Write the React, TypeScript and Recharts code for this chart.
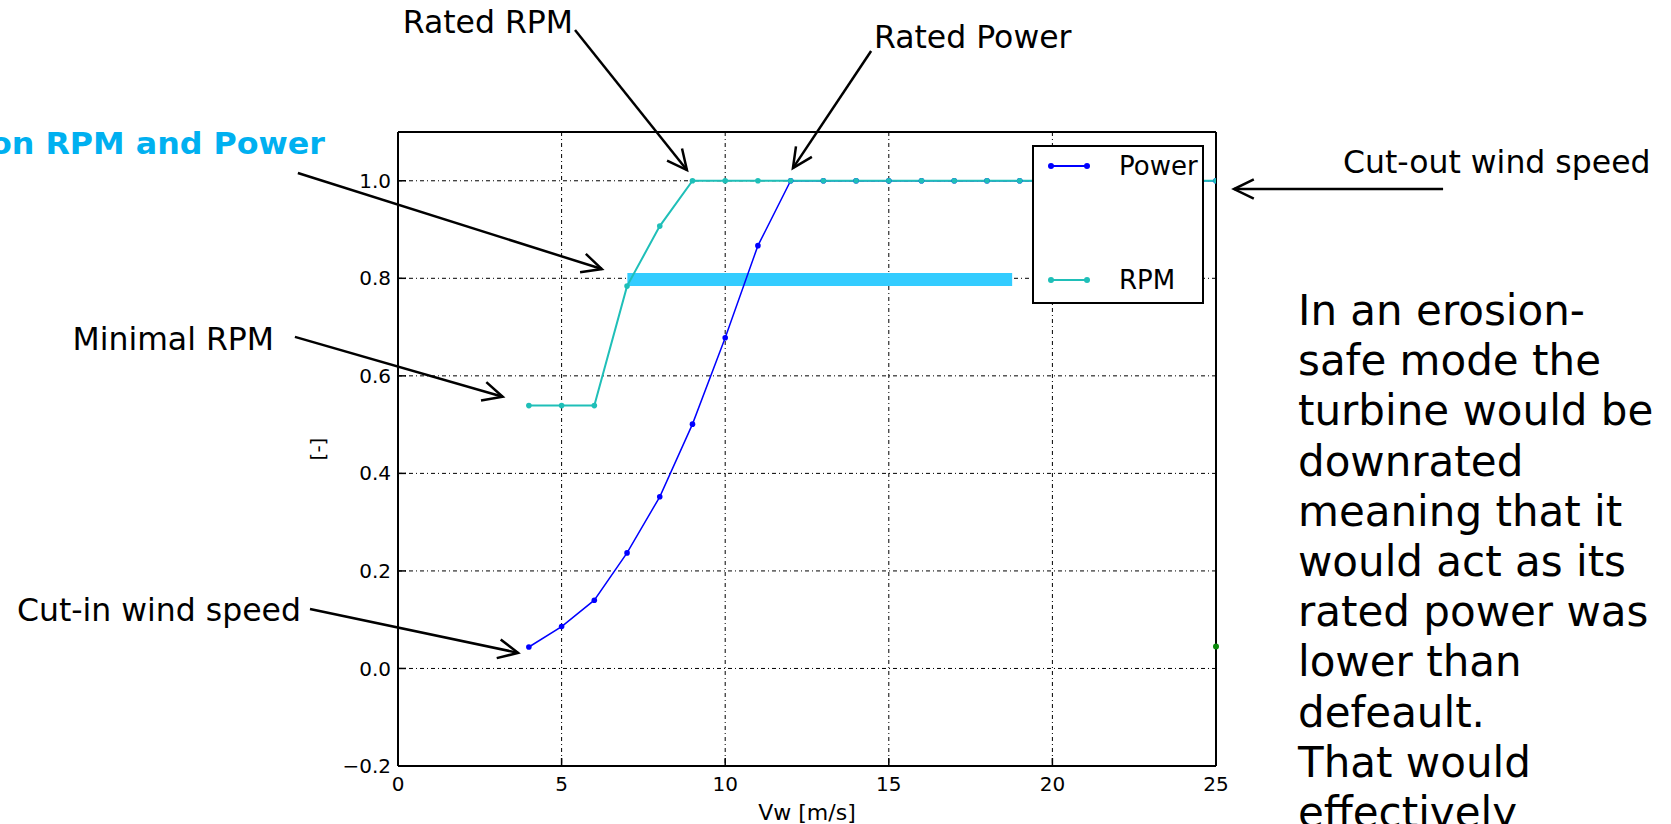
import {
  LineChart,
  Line,
  XAxis,
  YAxis,
  CartesianGrid,
  Legend,
  ReferenceLine,
  ReferenceDot,
} from "recharts";

const W = 1671;
const H = 824;

const WIND_SPEED = [4, 5, 6, 7, 8, 9, 10, 11, 12, 13, 14, 15, 16, 17, 18, 19, 20, 21, 22, 23, 24, 25];
const POWER = [0.044, 0.086, 0.14, 0.237, 0.352, 0.501, 0.678, 0.867, 1, 1, 1, 1, 1, 1, 1, 1, 1, 1, 1, 1, 1, 1];
const RPM = [0.539, 0.539, 0.539, 0.784, 0.907, 1, 1, 1, 1, 1, 1, 1, 1, 1, 1, 1, 1, 1, 1, 1, 1, 1];

const X_TICKS = [0, 5, 10, 15, 20, 25];
const Y_TICKS = [-0.2, 0, 0.2, 0.4, 0.6, 0.8, 1.0];

// downrated power level (thick cyan bar)
const DOWNRATE_FROM = 7.01;
const DOWNRATE_TO = 18.77;
const DOWNRATE_LEVEL = 0.7976;

// stray point at the right edge
const CUTOUT_DOT = { x: 25, y: 0.045 };

// arrows in data coordinates: [vw, value] start -> tip
const ARROWS = [
  { name: "rated-rpm", from: [5.41, 1.309], to: [8.83, 1.022] },
  { name: "rated-power", from: [14.46, 1.266], to: [12.07, 1.026] },
  { name: "downrate", from: [-3.06, 1.016], to: [6.23, 0.819] },
  { name: "min-rpm", from: [-3.15, 0.68], to: [3.2, 0.557] },
  { name: "cut-in", from: [-2.69, 0.122], to: [3.67, 0.032] },
  { name: "cut-out", from: [31.94, 0.983], to: [25.55, 0.983] },
];

const NOTES = [
  { text: "Rated RPM", x: 573, y: 33, anchor: "end" },
  { text: "Rated Power", x: 874, y: 48, anchor: "start" },
  { text: "Minimal RPM", x: 274, y: 350, anchor: "end" },
  { text: "Cut-in wind speed", x: 301, y: 621, anchor: "end" },
  { text: "Cut-out wind speed", x: 1343, y: 173, anchor: "start" },
];

const SIDE_TEXT = [
  "In an erosion-",
  "safe mode the",
  "turbine would be",
  "downrated",
  "meaning that it",
  "would act as its",
  "rated power was",
  "lower than",
  "defeault.",
  "That would",
  "effectively",
];

const POWER_COLOR = "#0000ff";
const RPM_COLOR = "#1fbfb8";
const BAR_COLOR = "#33ccff";
const FONT = "'DejaVu Sans', Verdana, sans-serif";

const data = WIND_SPEED.map((vw, i) => ({ vw, power: POWER[i], rpm: RPM[i] }));

function fmtY(v: number) {
  return v.toFixed(1).replace("-", "\u2212");
}

function Arrow(props: any) {
  const { x1, y1, x2, y2 } = props;
  const a = Math.atan2(y2 - y1, x2 - x1);
  const len = 22;
  const spread = 0.45;
  const ax = x2 - len * Math.cos(a - spread);
  const ay = y2 - len * Math.sin(a - spread);
  const bx = x2 - len * Math.cos(a + spread);
  const by = y2 - len * Math.sin(a + spread);
  return (
    <g>
      <line x1={x1} y1={y1} x2={x2} y2={y2} stroke="#000" strokeWidth={2.5} />
      <polyline
        points={`${ax},${ay} ${x2},${y2} ${bx},${by}`}
        fill="none"
        stroke="#000"
        strokeWidth={2.5}
      />
    </g>
  );
}

function LegendBox(props: any) {
  const payload = props.payload || [];
  return (
    <div
      style={{
        width: 172,
        height: 159,
        boxSizing: "border-box",
        border: "2px solid #000",
        background: "#fff",
        position: "relative",
        fontFamily: FONT,
        fontSize: 26,
        color: "#000",
      }}
    >
      {payload.map((p: any, i: number) => (
        <div
          key={p.value}
          style={{
            position: "absolute",
            left: 14,
            top: i === 0 ? 4 : 118,
            height: 30,
            display: "flex",
            alignItems: "center",
          }}
        >
          <svg width={42} height={10}>
            <line x1={2} y1={5} x2={40} y2={5} stroke={p.color} strokeWidth={2} />
            <circle cx={3} cy={5} r={3} fill={p.color} />
            <circle cx={39} cy={5} r={3} fill={p.color} />
          </svg>
          <span style={{ marginLeft: 29, lineHeight: "30px" }}>{p.value}</span>
        </div>
      ))}
    </div>
  );
}

export default function App() {
  return (
    <div
      style={{
        position: "absolute",
        left: 0,
        top: 0,
        width: W,
        height: H,
        overflow: "hidden",
        background: "#fff",
      }}
    >
      <LineChart
        width={W}
        height={H}
        data={data}
        margin={{ top: 130, right: 453, left: 318, bottom: 0 }}
      >
        <CartesianGrid stroke="#000" strokeDasharray="4 3 1 3" strokeWidth={1} />
        <XAxis
          dataKey="vw"
          type="number"
          domain={[0, 25]}
          ticks={X_TICKS}
          allowDataOverflow
          height={58}
          axisLine={{ stroke: "#000", strokeWidth: 2 }}
          tickLine={{ stroke: "#000", strokeWidth: 1.5 }}
          tickSize={-8}
          tickMargin={19}
          tick={{ fill: "#000", fontSize: 20, fontFamily: FONT }}
          label={{
            value: "Vw [m/s]",
            position: "insideBottom",
            offset: 4,
            fill: "#000",
            fontSize: 22,
            fontFamily: FONT,
          }}
        />
        <XAxis
          xAxisId="top"
          orientation="top"
          type="number"
          domain={[0, 25]}
          ticks={X_TICKS}
          allowDataOverflow
          height={2}
          axisLine={{ stroke: "#000", strokeWidth: 2 }}
          tickLine={{ stroke: "#000", strokeWidth: 1.5 }}
          tickSize={-8}
          tick={false}
        />
        <YAxis
          type="number"
          domain={[-0.2, 1.1]}
          ticks={Y_TICKS}
          allowDataOverflow
          width={80}
          axisLine={{ stroke: "#000", strokeWidth: 2 }}
          tickLine={{ stroke: "#000", strokeWidth: 1.5 }}
          tickSize={-8}
          tickMargin={15}
          tickFormatter={fmtY}
          tick={{ fill: "#000", fontSize: 20, fontFamily: FONT }}
          label={{
            value: "[-]",
            angle: -90,
            position: "insideLeft",
            offset: 0,
            fill: "#000",
            fontSize: 20,
            fontFamily: FONT,
            style: { textAnchor: "middle" },
          }}
        />
        <YAxis
          yAxisId="right"
          orientation="right"
          type="number"
          domain={[-0.2, 1.1]}
          ticks={Y_TICKS}
          allowDataOverflow
          width={2}
          axisLine={{ stroke: "#000", strokeWidth: 2 }}
          tickLine={{ stroke: "#000", strokeWidth: 1.5 }}
          tickSize={-8}
          tick={false}
        />
        <ReferenceLine
          segment={[
            { x: DOWNRATE_FROM, y: DOWNRATE_LEVEL },
            { x: DOWNRATE_TO, y: DOWNRATE_LEVEL },
          ]}
          stroke={BAR_COLOR}
          strokeWidth={13}
          ifOverflow="visible"
        />
        <Line
          dataKey="power"
          name="Power"
          stroke={POWER_COLOR}
          strokeWidth={1.5}
          dot={{ r: 2.8, fill: POWER_COLOR, stroke: POWER_COLOR, strokeWidth: 0 }}
          activeDot={false}
          isAnimationActive={false}
        />
        <Line
          dataKey="rpm"
          name="RPM"
          stroke={RPM_COLOR}
          strokeWidth={2}
          dot={{ r: 2.8, fill: RPM_COLOR, stroke: RPM_COLOR, strokeWidth: 0 }}
          activeDot={false}
          isAnimationActive={false}
        />
        <ReferenceDot
          x={CUTOUT_DOT.x}
          y={CUTOUT_DOT.y}
          r={3}
          fill="#0a8a0a"
          stroke="none"
          ifOverflow="visible"
        />
        {ARROWS.map((a) => (
          <ReferenceLine
            key={a.name}
            segment={[
              { x: a.from[0], y: a.from[1] },
              { x: a.to[0], y: a.to[1] },
            ]}
            ifOverflow="visible"
            shape={Arrow}
          />
        ))}
        <Legend
          layout="horizontal"
          verticalAlign="middle"
          align="center"
          content={LegendBox}
          wrapperStyle={{ position: "absolute", left: 1032, top: 145, width: 172, height: 159 }}
        />
      </LineChart>
      <svg
        width={W}
        height={H}
        style={{ position: "absolute", left: 0, top: 0, pointerEvents: "none" }}
      >
        {NOTES.map((n) => (
          <text
            key={n.text}
            x={n.x}
            y={n.y}
            textAnchor={n.anchor as any}
            fontFamily={FONT}
            fontSize={31.5}
            fill="#000"
          >
            {n.text}
          </text>
        ))}
        <text
          x={325}
          y={154}
          textAnchor="end"
          fontFamily={FONT}
          fontWeight="bold"
          fontSize={30}
          fill="#00b0f0"
          textLength={335}
          lengthAdjust="spacingAndGlyphs"
        >
          on RPM and Power
        </text>
        {SIDE_TEXT.map((line, i) => (
          <text
            key={line}
            x={1298}
            y={325 + i * 50.2}
            fontFamily={FONT}
            fontSize={42}
            fill="#000"
          >
            {line}
          </text>
        ))}
      </svg>
    </div>
  );
}
